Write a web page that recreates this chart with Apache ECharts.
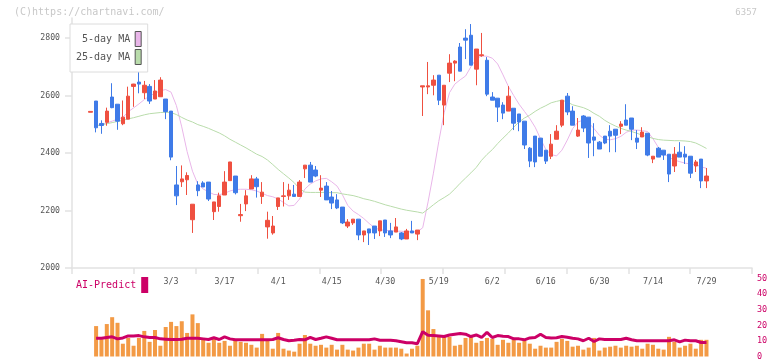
<!DOCTYPE html>
<html>
<head>
<meta charset="utf-8">
<script src="https://cdn.jsdelivr.net/npm/echarts@6/dist/echarts.min.js"></script>
<style>
  html, body { margin: 0; padding: 0; background: #fff; }
  #main { width: 772px; height: 361px; }
</style>
</head>
<body>
<div id="main"></div>
<script>
  // x軸ラベル（10本ごと）
  const dateLabels = ['3/3', '3/17', '4/1', '4/15', '4/30', '5/19', '6/2', '6/16', '6/30', '7/14', '7/29'];
  const priceTicks = [2000, 2200, 2400, 2600, 2800];

  // ローソク足（始値・終値・安値・高値）
  const opens = [2542,2581,2503,2507,2595,2570,2502,2518,2632,2647,
    2610,2632,2588,2596,2588,2546,2289,2300,2307,2168,
    2289,2296,2299,2196,2214,2254,2304,2320,2182,2223,
    2275,2310,2249,2143,2122,2214,2249,2251,2257,2249,
    2345,2358,2341,2271,2285,2247,2237,2212,2146,2157,
    2170,2115,2136,2146,2129,2167,2129,2125,2122,2101,
    2129,2118,2630,2630,2636,2671,2567,2678,2713,2769,
    2800,2810,2692,2739,2723,2595,2591,2567,2546,2556,
    2536,2511,2417,2459,2452,2410,2389,2448,2497,2598,
    2546,2459,2529,2525,2456,2438,2459,2476,2483,2493,
    2515,2522,2452,2456,2469,2379,2417,2410,2396,2355,
    2403,2396,2389,2355,2379,2303];
  const closes = [2545,2488,2496,2546,2558,2511,2525,2598,2640,2640,
    2636,2581,2616,2654,2544,2386,2251,2310,2322,2222,
    2269,2282,2240,2230,2251,2299,2369,2262,2186,2251,
    2310,2283,2264,2166,2146,2244,2251,2271,2249,2299,
    2358,2299,2320,2278,2237,2226,2209,2157,2160,2170,
    2115,2129,2122,2122,2164,2122,2115,2143,2101,2129,
    2122,2132,2634,2634,2654,2584,2636,2713,2720,2685,
    2793,2706,2762,2742,2605,2584,2560,2539,2598,2504,
    2508,2428,2372,2369,2389,2372,2431,2476,2584,2543,
    2497,2480,2487,2435,2445,2414,2435,2459,2462,2501,
    2497,2483,2438,2473,2393,2389,2386,2393,2327,2396,
    2386,2386,2330,2369,2303,2320];
  const lows = [2542,2472,2467,2495,2556,2481,2497,2518,2561,2608,
    2588,2571,2588,2596,2518,2375,2219,2282,2254,2122,
    2250,2282,2233,2167,2196,2254,2304,2256,2161,2198,
    2275,2245,2223,2102,2116,2202,2214,2237,2249,2249,
    2313,2299,2316,2247,2237,2205,2205,2153,2139,2150,
    2097,2090,2080,2101,2111,2108,2104,2125,2097,2101,
    2122,2097,2529,2605,2601,2567,2497,2647,2650,2685,
    2727,2706,2636,2735,2598,2584,2508,2518,2546,2480,
    2476,2414,2351,2351,2389,2362,2379,2448,2490,2532,
    2497,2456,2473,2383,2389,2414,2431,2403,2403,2466,
    2497,2445,2414,2456,2389,2365,2386,2376,2299,2334,
    2386,2362,2313,2334,2278,2278];
  const highs = [2545,2581,2514,2558,2643,2570,2583,2631,2641,2695,
    2651,2640,2654,2664,2588,2546,2355,2357,2333,2222,
    2302,2302,2299,2230,2262,2337,2369,2320,2223,2271,
    2323,2317,2299,2196,2181,2244,2299,2293,2289,2306,
    2358,2369,2355,2323,2299,2268,2257,2212,2170,2170,
    2170,2129,2136,2146,2164,2167,2157,2174,2125,2136,
    2164,2132,2634,2717,2671,2671,2636,2744,2723,2783,
    2831,2849,2762,2818,2734,2612,2591,2577,2633,2556,
    2536,2511,2421,2459,2452,2410,2466,2497,2584,2609,
    2563,2522,2532,2525,2504,2442,2459,2497,2483,2511,
    2570,2522,2480,2490,2469,2389,2421,2410,2396,2421,
    2438,2424,2389,2376,2379,2348];

  // 移動平均線
  const ma5 = [null,2494,2500,2505,2511,2518,2524,2544,2557,2571,
    2586,2599,2608,2617,2621,2612,2565,2491,2405,2337,
    2292,2275,2265,2256,2255,2260,2268,2273,2274,2274,
    2272,2268,2260,2252,2248,2240,2228,2216,2218,2240,
    2275,2292,2303,2310,2312,2300,2285,2255,2218,2198,
    2186,2172,2155,2140,2133,2131,2130,2128,2128,2126,
    2126,2126,2140,2230,2330,2440,2540,2610,2640,2655,
    2668,2700,2728,2738,2737,2730,2710,2672,2632,2600,
    2570,2545,2520,2490,2450,2412,2395,2390,2410,2445,
    2485,2508,2515,2505,2485,2462,2448,2446,2450,2458,
    2472,2480,2480,2478,2475,2450,2420,2398,2385,2376,
    2370,2365,2362,2360,2352,2347];
  const ma25 = [null,2495,2498,2502,2506,2510,2514,2519,2523,2528,
    2533,2537,2539,2541,2542,2541,2534,2524,2515,2508,
    2499,2493,2486,2478,2470,2460,2448,2438,2428,2418,
    2407,2396,2388,2376,2360,2343,2328,2313,2297,2276,
    2264,2263,2263,2263,2263,2262,2262,2258,2255,2252,
    2247,2241,2237,2232,2226,2220,2215,2210,2205,2201,
    2198,2195,2191,2205,2220,2234,2245,2257,2275,2295,
    2313,2331,2350,2375,2395,2412,2433,2452,2470,2490,
    2508,2522,2532,2545,2556,2565,2575,2580,2584,2578,
    2568,2563,2558,2550,2538,2528,2514,2503,2494,2486,
    2480,2475,2469,2462,2457,2451,2447,2445,2444,2443,
    2443,2442,2440,2435,2426,2416];

  // 出来高とAI予測
  const volumes = [null,19.5,11.1,20.8,25.2,21.6,8.2,11.9,6.9,11.9,
    16.4,9.4,17,6.9,18.9,22.2,19.5,22.6,15.1,27,
    21.4,11.9,8.8,11.9,8.8,10,6.9,10.7,9.4,8.8,
    7.5,5.7,14.5,10.7,5,15.1,5,3.8,3.1,8.2,
    13.8,8.2,6.9,7.5,5.7,7.5,4.4,7.5,4.4,3.8,
    5.7,8.2,8.2,4.4,6.9,5.7,5.7,5.7,5.0,1.9,
    5.0,6.9,49.7,29.6,17.6,12.6,13.2,12.6,6.9,7.5,
    11.9,13.8,8.8,10,11.9,11.3,7.5,10.7,8.8,10.7,
    8.8,10,8.2,5,6.9,5.7,5.7,9.4,11.3,10,
    6.3,6.9,4.4,5.7,11.9,3.8,5.7,6.3,6.9,5.7,
    6.9,6.3,6.9,5,8.2,7.5,5,4.4,12.6,9.4,
    5.7,6.9,8.2,5,10.7,10.7];
  const aiPredict = [null,11.7,11.7,12.2,12.6,11.3,11.9,13.2,13.2,13.4,
    12.6,12.2,12.2,11.3,11.1,10.9,10.9,11.1,11.7,11.7,
    11.7,11.3,10.9,12.0,10.9,12.6,11.3,10.7,10.7,10.7,
    10.7,10.7,10.7,10.7,10.9,12.0,10.9,10.1,10.4,10.9,
    10.7,12.2,10.9,11.7,12.6,11.7,10.7,10.7,10.7,10.7,
    10.7,10.7,10.7,11.3,10.4,10.4,10.4,10.1,9.5,8.8,
    8.8,8.2,15.9,13.6,13.4,13.2,12.8,13.8,14.3,14.7,
    14.3,12.8,13.8,12.2,15.5,12.2,13.4,13.0,12.8,11.3,
    11.3,10.7,11.9,12.2,14.3,12.2,11.9,12.0,12.8,12.4,
    11.7,11.3,10.1,11.7,9.6,11.3,10.9,10.9,10.9,10.9,
    11.7,10.7,10.1,10.1,10.1,10.1,10.1,10.1,10.1,10.7,
    9.4,10.5,10.1,10.1,9.0,9.0];

  const leadSlots = 3;      // 左側の空き
  const trailSlots = 8;     // 右側の空き
  const firstLabel = 15;    // 3/3 のローソク足番号
  const labelEvery = 10;
  const total = leadSlots + opens.length + trailSlots;
  const mono = '"DejaVu Sans Mono", "Liberation Mono", monospace';

  function pad(arr) {
    const out = new Array(total).fill('-');
    arr.forEach(function (v, i) { out[leadSlots + i] = (v === null ? '-' : v); });
    return out;
  }

  const categories = [];
  for (let i = 0; i < total; i++) {
    const k = i - leadSlots - firstLabel;
    categories.push(k >= 0 && k % labelEvery === 0 && dateLabels[k / labelEvery] ? dateLabels[k / labelEvery] : '');
  }
  const candles = pad(opens.map(function (o, i) { return [o, closes[i], lows[i], highs[i]]; }));

  const chart = echarts.init(document.getElementById('main'));
  chart.setOption({
    animation: false,
    textStyle: { fontFamily: mono },
    graphic: [
      { type: 'text', left: 14, top: 7, style: { text: '(C)https://chartnavi.com/', fill: '#c8c8c8', font: '10px ' + mono } },
      { type: 'text', right: 15, top: 8, style: { text: '6357', fill: '#c8c8c8', font: '9px ' + mono } }
    ],
    legend: [
      {
        data: ['5-day MA', '25-day MA'],
        orient: 'vertical', left: 70, top: 24,
        padding: [7, 6, 7, 6], itemGap: 2, itemWidth: 6, itemHeight: 15,
        align: 'right', icon: 'rect', selectedMode: false,
        backgroundColor: '#fff', borderColor: '#dcdcdc', borderWidth: 1,
        itemStyle: { borderColor: '#555', borderWidth: 1 },
        textStyle: { color: '#555', fontSize: 10, fontFamily: mono }
      },
      {
        data: ['AI-Predict'],
        left: 76, top: 277, padding: 0,
        itemWidth: 7, itemHeight: 16, align: 'right', icon: 'rect', selectedMode: false,
        textStyle: { color: '#cc0066', fontSize: 10, fontFamily: mono }
      }
    ],
    grid: [
      { left: 72, right: 20, top: 18, height: 250 },
      { left: 72, right: 20, top: 278.5, height: 79.5 }
    ],
    xAxis: [
      {
        type: 'category', gridIndex: 0, data: categories, boundaryGap: true,
        axisLine: { lineStyle: { color: '#e2e2e2', width: 1.5 } },
        axisTick: { show: false },
        axisLabel: { interval: 0, margin: 10, color: '#555', fontSize: 8.3, fontFamily: mono }
      },
      {
        type: 'value', gridIndex: 0, min: 0, max: 11, interval: 1, position: 'bottom',
        axisLine: { show: false },
        axisTick: { show: true, length: 6, lineStyle: { color: '#e2e2e2', width: 1.5 } },
        axisLabel: { show: false }, splitLine: { show: false }
      },
      { type: 'category', gridIndex: 1, data: categories, boundaryGap: true, show: false }
    ],
    yAxis: [
      {
        type: 'value', gridIndex: 0, min: 2000, max: 2870, position: 'left',
        axisLine: { show: true, lineStyle: { color: '#e2e2e2', width: 1.5 } },
        axisTick: { show: true, length: 7, customValues: priceTicks, lineStyle: { color: '#e2e2e2', width: 1.5 } },
        axisLabel: {
          margin: 12, customValues: priceTicks, color: '#555', fontSize: 8.2, fontFamily: mono,
          formatter: function (v) { return String(v); }
        },
        splitLine: { show: false }
      },
      {
        type: 'value', gridIndex: 1, min: 0, max: 50, interval: 10, position: 'right',
        axisLine: { show: false }, axisTick: { show: false }, splitLine: { show: false },
        axisLabel: { margin: 5, color: '#cc0066', fontSize: 8.5, fontFamily: mono }
      }
    ],
    series: [
      {
        name: '5-day MA', type: 'line', xAxisIndex: 0, yAxisIndex: 0, data: pad(ma5),
        symbol: 'none', z: 1, color: '#e9b6e9',
        lineStyle: { color: '#e9b6e9', width: 1 }
      },
      {
        name: '25-day MA', type: 'line', xAxisIndex: 0, yAxisIndex: 0, data: pad(ma25),
        symbol: 'none', z: 1, color: '#b9dcab',
        lineStyle: { color: '#b9dcab', width: 1 }
      },
      {
        name: 'price', type: 'candlestick', xAxisIndex: 0, yAxisIndex: 0, data: candles,
        barWidth: 4, z: 3,
        itemStyle: { color: '#ef5040', color0: '#3f7be8', borderColor: '#ef5040', borderColor0: '#3f7be8', borderWidth: 1 }
      },
      {
        name: 'volume', type: 'bar', xAxisIndex: 2, yAxisIndex: 1, data: pad(volumes),
        barWidth: 4, itemStyle: { color: '#f39a45' }
      },
      {
        name: 'AI-Predict', type: 'line', xAxisIndex: 2, yAxisIndex: 1, data: pad(aiPredict),
        symbol: 'none', color: '#cc0066', z: 3,
        lineStyle: { color: '#cc0066', width: 3 }
      }
    ]
  });
</script>
</body>
</html>
